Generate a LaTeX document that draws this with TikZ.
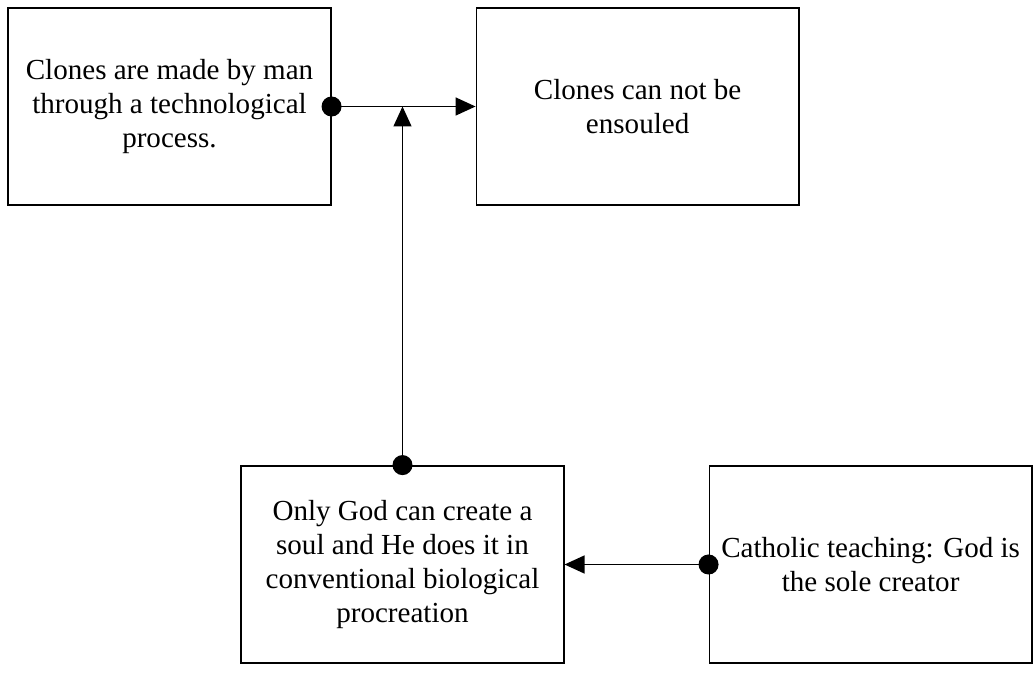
\documentclass[tikz,border=0pt]{standalone}
\usepackage{fontspec}
\setmainfont{Liberation Serif}
\usetikzlibrary{positioning,arrows.meta}

\begin{document}
\begin{tikzpicture}[
    x=0.75pt, y=-0.75pt,
    node distance=108pt,
    block/.style={rectangle, draw, line width=1.1pt, minimum width=242pt, minimum height=148pt, align=center, inner sep=0pt, font=\fontsize{21.8}{25.5}\selectfont},
    arrow/.style={{Circle[length=15pt]}-{Triangle[length=15pt, width=13.5pt]}, line width=1.1pt, shorten <=-7.5pt}
]
\useasboundingbox (0,0) rectangle (1033,680);

% Top row
\node[block] (made) at (169.5,106.5) {Clones are made by man\\through a technological\\process.};
\node[block, right=of made] (ensoul) {Clones can not be\\ensouled};

% Bottom row
\node[block] (god) at (402.5,564.5) {Only God can create a\\soul and He does it in\\conventional biological\\procreation};
\node[block, right=of god] (church) {Catholic teaching: God is\\the sole creator};

% Links
\coordinate (meet) at (god.north |- made.east);
\draw[arrow] (made.east) -- (ensoul.west);
\draw[arrow] (god.north) -- (meet);
\draw[arrow] (church.west) -- (god.east);

\end{tikzpicture}
\end{document}
